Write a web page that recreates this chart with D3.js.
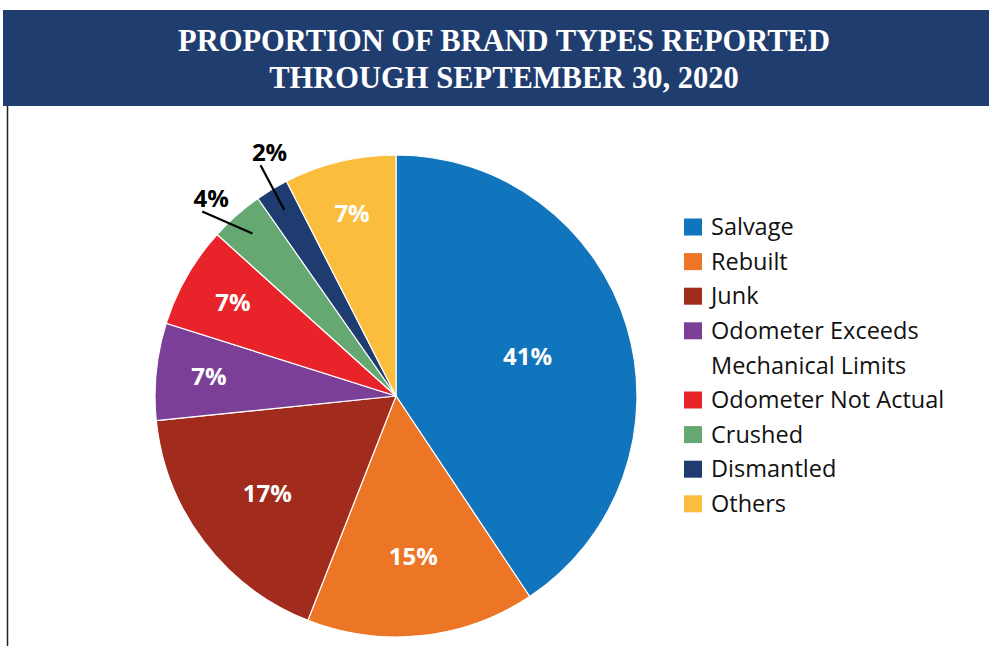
<!DOCTYPE html>
<html>
<head>
<meta charset="utf-8">
<script src="https://cdn.jsdelivr.net/npm/d3@7"></script>
<style>
  body { margin: 0; background: #fff; }
  svg { display: block; }
</style>
</head>
<body>
<div id="chart"></div>
<script>
// Data
const categories = ["Salvage", "Rebuilt", "Junk", "Odometer Exceeds Mechanical Limits",
    "Odometer Not Actual", "Crushed", "Dismantled", "Others"];
const values = [40.6, 15.3, 17.4, 6.5, 6.8, 3.6, 2.2, 7.5];
const labels = ["41%", "15%", "17%", "7%", "7%", "4%", "2%", "7%"];
const colors = ["#1075bc", "#ec7625", "#a12b1c", "#7b3f98", "#e8232a", "#65a872", "#1e3c70", "#fbbd3d"];
const titleLines = ["PROPORTION OF BRAND TYPES REPORTED", "THROUGH SEPTEMBER 30, 2020"];

const width = 989;
const height = 646;
const cx = 396, cy = 396, radius = 241;

const svg = d3.select("#chart").append("svg")
    .attr("width", width)
    .attr("height", height);

// Title banner
svg.append("rect")
    .attr("x", 3).attr("y", 10)
    .attr("width", width - 3).attr("height", 96)
    .attr("fill", "#1f3d6e");

svg.selectAll("text.title")
    .data(titleLines)
    .enter()
    .append("text")
    .attr("class", "title")
    .attr("x", 504)
    .attr("y", (d, i) => 51 + i * 37)
    .attr("text-anchor", "middle")
    .attr("fill", "#fff")
    .style("font-family", "'Liberation Serif', 'DejaVu Serif', serif")
    .style("font-weight", "bold")
    .style("font-size", "30.5px")
    .text(d => d);

// Left frame line
svg.append("line")
    .attr("x1", 7.5).attr("x2", 7.5)
    .attr("y1", 106).attr("y2", height)
    .attr("stroke", "#222")
    .attr("stroke-width", 1.5);

// Pie
const pie = d3.pie().sort(null).value(d => d);
const arcs = pie(values);
const arc = d3.arc().innerRadius(0).outerRadius(radius);

const g = svg.append("g").attr("transform", `translate(${cx},${cy})`);

g.selectAll("path")
    .data(arcs)
    .enter()
    .append("path")
    .attr("d", arc)
    .attr("fill", (d, i) => colors[i])
    .attr("stroke", "#fff")
    .attr("stroke-width", 1.2);

// Position on a ray from the centre
function polar(angle, r) {
    return [Math.sin(angle) * r, -Math.cos(angle) * r];
}

const inside = arcs.filter(d => d.value >= 5);
const outside = arcs.filter(d => d.value < 5);

function labelRadius(v) {
    if (v > 30) return radius * 0.57;
    if (v > 10) return radius * 0.67;
    return radius * 0.78;
}

g.selectAll("text.inlabel")
    .data(inside)
    .enter()
    .append("text")
    .attr("class", "inlabel")
    .attr("transform", d => {
        const p = polar((d.startAngle + d.endAngle) / 2, labelRadius(d.value));
        return `translate(${p[0]},${p[1]})`;
    })
    .attr("text-anchor", "middle")
    .attr("dy", "0.35em")
    .attr("fill", "#fff")
    .style("font-family", "'Open Sans', sans-serif")
    .style("font-weight", "bold")
    .style("font-size", "24px")
    .text(d => labels[d.index]);

// Leader lines for the small slices (the larger one is tilted away a bit)
const tilt = d => (d.value > 3 ? -0.087 : 0.01);
const leaderEnd = d => polar((d.startAngle + d.endAngle) / 2 + tilt(d), radius * 1.11);

g.selectAll("line.leader")
    .data(outside)
    .enter()
    .append("line")
    .attr("class", "leader")
    .each(function(d) {
        const p1 = polar((d.startAngle + d.endAngle) / 2, radius * 0.9);
        const p2 = leaderEnd(d);
        d3.select(this)
            .attr("x1", p1[0]).attr("y1", p1[1])
            .attr("x2", p2[0]).attr("y2", p2[1]);
    })
    .attr("stroke", "#000")
    .attr("stroke-width", 2.2);

g.selectAll("text.outlabel")
    .data(outside)
    .enter()
    .append("text")
    .attr("class", "outlabel")
    .attr("transform", d => {
        const p = leaderEnd(d);
        return `translate(${p[0] + 9},${p[1] - 13})`;
    })
    .attr("text-anchor", "middle")
    .attr("dy", "0.35em")
    .attr("fill", "#000")
    .style("font-family", "'Open Sans', sans-serif")
    .style("font-weight", "bold")
    .style("font-size", "24px")
    .text(d => labels[d.index]);

// Legend
const legendRows = [];
categories.forEach((c, i) => {
    if (c === "Odometer Exceeds Mechanical Limits") {
        legendRows.push({ text: "Odometer Exceeds", color: colors[i] });
        legendRows.push({ text: "Mechanical Limits", color: null });
    } else {
        legendRows.push({ text: c, color: colors[i] });
    }
});

const legend = svg.append("g").attr("transform", "translate(684,227)");
const row = legend.selectAll("g")
    .data(legendRows)
    .enter()
    .append("g")
    .attr("transform", (d, i) => `translate(0,${i * 34.6})`);

row.filter(d => d.color)
    .append("rect")
    .attr("x", 0).attr("y", -8.5)
    .attr("width", 18).attr("height", 17)
    .attr("fill", d => d.color);

row.append("text")
    .attr("x", 27)
    .attr("dy", "0.35em")
    .attr("fill", "#111")
    .style("font-family", "'Open Sans', sans-serif")
    .style("font-size", "23.5px")
    .text(d => d.text);
</script>
</body>
</html>
